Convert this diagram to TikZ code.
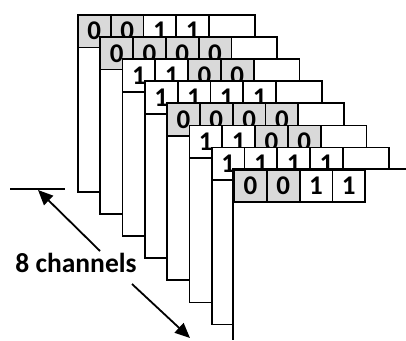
\documentclass[tikz,border=0pt]{standalone}
\usepackage{fontspec}
\setmainfont{Carlito}
\usetikzlibrary{arrows.meta}
\begin{document}
\begin{tikzpicture}[x=1pt,y=-1pt,
  sheet/.style={draw=black, fill=white, line width=1.8pt, inner sep=0pt,
    minimum width=177pt, minimum height=177pt, anchor=north west},
  bitcell/.style={draw=black, line width=1.8pt, inner sep=0pt,
    minimum width=32.8pt, minimum height=32.5pt, anchor=north west,
    font=\fontsize{27}{27}\selectfont\bfseries},
  bit0/.style={bitcell, fill=gray!30},
  bit1/.style={bitcell, fill=white},
  pointer/.style={line width=1.8pt, -{Triangle[length=15pt,width=13pt]}},
  caption/.style={font=\fontsize{27.5}{27.5}\selectfont\bfseries, inner sep=0pt}]
\useasboundingbox (0,0) rectangle (406,340);
\fill[white] (0,0) rectangle (406,340);

% stacked channel sheets, each shifted down and to the right
\foreach \i/\bits in {0/{0,0,1,1},1/{0,0,0,0},2/{1,1,0,0},3/{1,1,1,1},
                      4/{0,0,0,0},5/{1,1,0,0},6/{1,1,1,1},7/{0,0,1,1}}{
  \pgfmathsetmacro\sx{77+22.3*\i}
  \pgfmathsetmacro\sy{14+22.1*\i}
  \ifnum\i<7
    \node[sheet] (s\i) at (\sx,\sy) {};
  \else
    % front sheet runs off the bottom and right edges
    \pgfmathsetmacro\sw{406-\sx}
    \pgfmathsetmacro\sh{340-\sy}
    \node[fill=white, inner sep=0pt, anchor=north west,
      minimum width=\sw pt, minimum height=\sh pt] (s\i) at (\sx,\sy) {};
    \draw[line width=1.8pt] (s\i.north east) -- (s\i.north west) -- (s\i.south west);
  \fi
  \foreach \b [count=\k from 0] in \bits {
    \node[bit\b] (c\i-\k) at (\sx+32.8*\k,\sy) {\b};
  }
}

% channel count annotation
\coordinate (tickL) at (10,189);
\coordinate (tickR) at (65,189);
\draw[line width=1.8pt] (tickL) -- (tickR);
\node[caption] (lbl) at (76,263) {8 channels};
\coordinate (upS) at (100,251);
\coordinate (upE) at (38,190);
\coordinate (dnS) at (132,284);
\coordinate (dnE) at (190,338);
\draw[pointer] (upS) -- (upE);
\draw[pointer] (dnS) -- (dnE);
\end{tikzpicture}
\end{document}
